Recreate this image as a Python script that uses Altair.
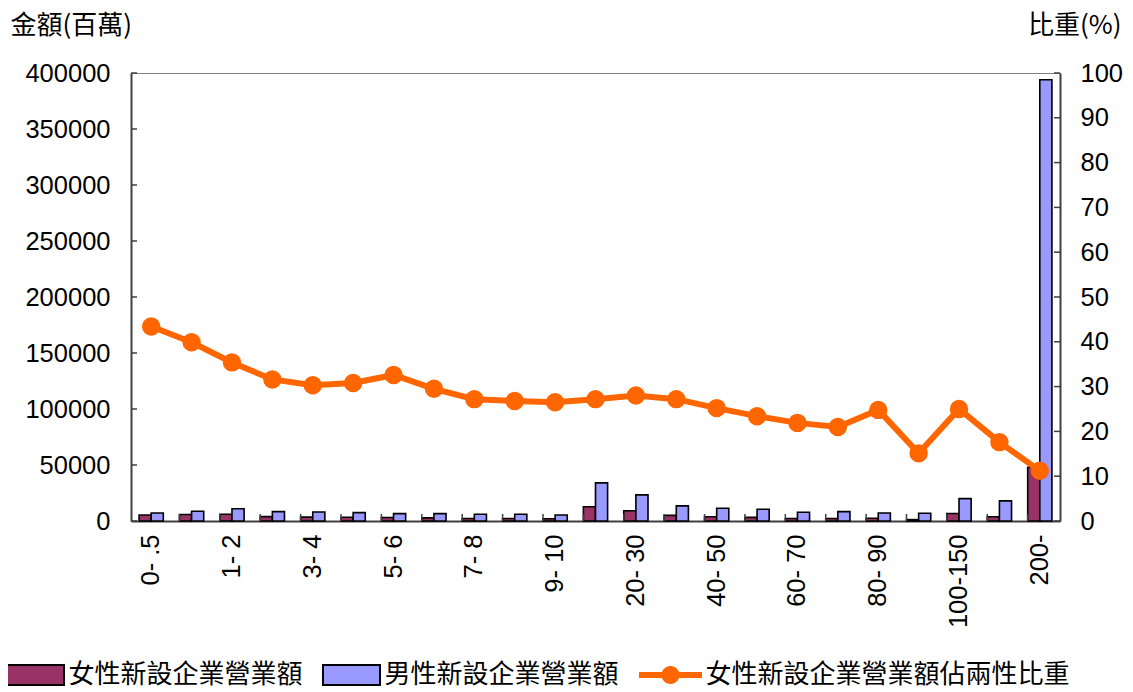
import altair as alt
import pandas as pd

cats = [
    "0- .5", ".5- 1", "1- 2", "2- 3", "3- 4", "4- 5", "5- 6", "6- 7", "7- 8", "8- 9",
    "9- 10", "10- 20", "20- 30", "30- 40", "40- 50", "50- 60", "60- 70", "70- 80",
    "80- 90", "90- 100", "100-150", "150- 200", "200-",
]
shown = ["0- .5", "1- 2", "3- 4", "5- 6", "7- 8", "9- 10", "20- 30", "40- 50",
         "60- 70", "80- 90", "100-150", "200-"]

female = [5300, 5800, 6000, 3900, 3500, 3300, 3100, 2800, 2200, 2200, 1950, 12700,
          9100, 5000, 3800, 3200, 2200, 2200, 2400, 1250, 6700, 3800, 48000]
male = [7200, 8700, 11000, 8400, 8000, 7500, 6600, 6600, 6000, 6000, 5400, 34000,
        23300, 13500, 11400, 10500, 7800, 8400, 7200, 6900, 20000, 18000, 394000]
share = [43.4, 39.9, 35.4, 31.6, 30.3, 30.8, 32.6, 29.5, 27.2, 26.8, 26.5, 27.2,
         28.0, 27.2, 25.2, 23.4, 21.9, 21.0, 24.8, 15.1, 25.0, 17.6, 11.2]

series = ["女性新設企業營業額", "男性新設企業營業額"]
line_name = "女性新設企業營業額佔兩性比重"
bar_colors = ["#993366", "#9999FF"]
line_color = "#FF6600"

left_ticks = [0, 50000, 100000, 150000, 200000, 250000, 300000, 350000, 400000]
right_ticks = [0, 10, 20, 30, 40, 50, 60, 70, 80, 90, 100]

W, H = 929, 448
LAB_FONT = "Liberation Sans"
CJK = "Noto Sans CJK TC"

rows = []
for c, f, m in zip(cats, female, male):
    rows.append({"cat": c, "series": series[0], "value": f})
    rows.append({"cat": c, "series": series[1], "value": m})
bar_df = pd.DataFrame(rows)
line_df = pd.DataFrame({"cat": cats, "share": share, "name": line_name})
lt_df = pd.DataFrame({"value": left_ticks})
rt_df = pd.DataFrame({"share": right_ticks})
xt_df = pd.DataFrame({"cat": cats[1:]})

shown_js = "[" + ",".join("'" + s + "'" for s in shown) + "]"
x_axis = alt.Axis(
    title=None, labelAngle=-90, labelPadding=13, ticks=False,
    labelExpr="indexof(" + shown_js + ", datum.value) >= 0 ? datum.value : ''",
    labelFont=LAB_FONT, labelFontSize=25.5, labelColor="black",
    domainColor="#404040", domainWidth=2,
)
x_scale = alt.Scale(paddingInner=0.4, paddingOuter=0.2)

left_axis = alt.Axis(
    title="金額(百萬)", titleAngle=0, titleX=-121, titleY=-48, titleAlign="left",
    titleBaseline="middle", titleFont=CJK, titleFontSize=26, titleFontWeight="normal",
    titleColor="black", values=left_ticks, format="d", ticks=False, labelPadding=21,
    labelFont=LAB_FONT, labelFontSize=25.5, labelColor="black",
    domainColor="#404040", domainWidth=2, grid=False,
)
right_axis = alt.Axis(
    title="比重(%)", orient="right", titleAngle=0, titleX=61, titleY=-48,
    titleAlign="right", titleBaseline="middle", titleFont=CJK, titleFontSize=26,
    titleFontWeight="normal", titleColor="black", values=right_ticks, format="d",
    ticks=False, labelPadding=20, labelFont=LAB_FONT, labelFontSize=25.5,
    labelColor="black", domainColor="#404040", domainWidth=2, grid=False,
)
y_left_scale = alt.Scale(domain=[0, 400000], nice=False)
y_right_scale = alt.Scale(domain=[0, 100], nice=False)

bars = alt.Chart(bar_df).mark_bar(stroke="black", strokeWidth=1.6).encode(
    x=alt.X("cat:N", sort=cats, scale=x_scale, axis=x_axis),
    xOffset=alt.XOffset("series:N", sort=series, scale=alt.Scale(paddingInner=0)),
    y=alt.Y("value:Q", scale=y_left_scale, axis=left_axis),
    color=alt.Color(
        "series:N",
        scale=alt.Scale(domain=series, range=bar_colors),
        legend=alt.Legend(
            title=None, orient="none", direction="horizontal",
            legendX=-108.5, legendY=589,
            symbolType="M-2.85,-1H2.85V1H-2.85Z", symbolSize=400,
            symbolStrokeColor="black", symbolStrokeWidth=2,
            labelFont=CJK, labelFontSize=26, labelColor="black",
            labelLimit=600, labelOffset=20, columnPadding=15,
        ),
    ),
)

left_ticks_layer = alt.Chart(lt_df).mark_rule(color="#404040", strokeWidth=1.5).encode(
    y=alt.Y("value:Q", scale=y_left_scale, axis=left_axis),
    x=alt.value(0), x2=alt.value(6),
)
x_ticks_layer = alt.Chart(xt_df).mark_rule(color="#404040", strokeWidth=1.5).encode(
    x=alt.X("cat:N", sort=cats, scale=x_scale, axis=x_axis, bandPosition=0),
    y=alt.value(H - 7), y2=alt.value(H),
)

line = alt.Chart(line_df).mark_line(
    strokeWidth=6,
    point=alt.OverlayMarkDef(filled=True, size=270, color=line_color, opacity=1),
).encode(
    x=alt.X("cat:N", sort=cats, scale=x_scale, axis=x_axis),
    y=alt.Y("share:Q", scale=y_right_scale, axis=right_axis),
    stroke=alt.Stroke(
        "name:N",
        scale=alt.Scale(domain=[line_name], range=[line_color]),
        legend=alt.Legend(
            title=None, orient="none", direction="horizontal",
            legendX=526.5, legendY=589,
            symbolType="M-3.15,-0.3H3.15V0.3H-3.15Z M-0.9,0A0.9,0.9 0 1,1 0.9,0A0.9,0.9 0 1,1 -0.9,0Z",
            symbolSize=400, symbolFillColor=line_color, symbolStrokeWidth=0,
            labelFont=CJK, labelFontSize=26, labelColor="black",
            labelLimit=600, labelOffset=22,
        ),
    ),
)
right_ticks_layer = alt.Chart(rt_df).mark_rule(color="#404040", strokeWidth=1.5).encode(
    y=alt.Y("share:Q", scale=y_right_scale, axis=right_axis),
    x=alt.value(W - 6), x2=alt.value(W),
)

left = alt.layer(bars, left_ticks_layer, x_ticks_layer)
right = alt.layer(right_ticks_layer, line)

chart = alt.layer(left, right).resolve_scale(
    y="independent", color="independent", stroke="independent"
).properties(
    width=W, height=H,
    autosize=alt.AutoSizeParams(type="none"),
    padding={"left": 123, "top": 65, "right": 65, "bottom": 168},
).configure_view(stroke="#808080", strokeWidth=1)

chart.save("out.html", embed_options={"renderer": "svg", "actions": False})
